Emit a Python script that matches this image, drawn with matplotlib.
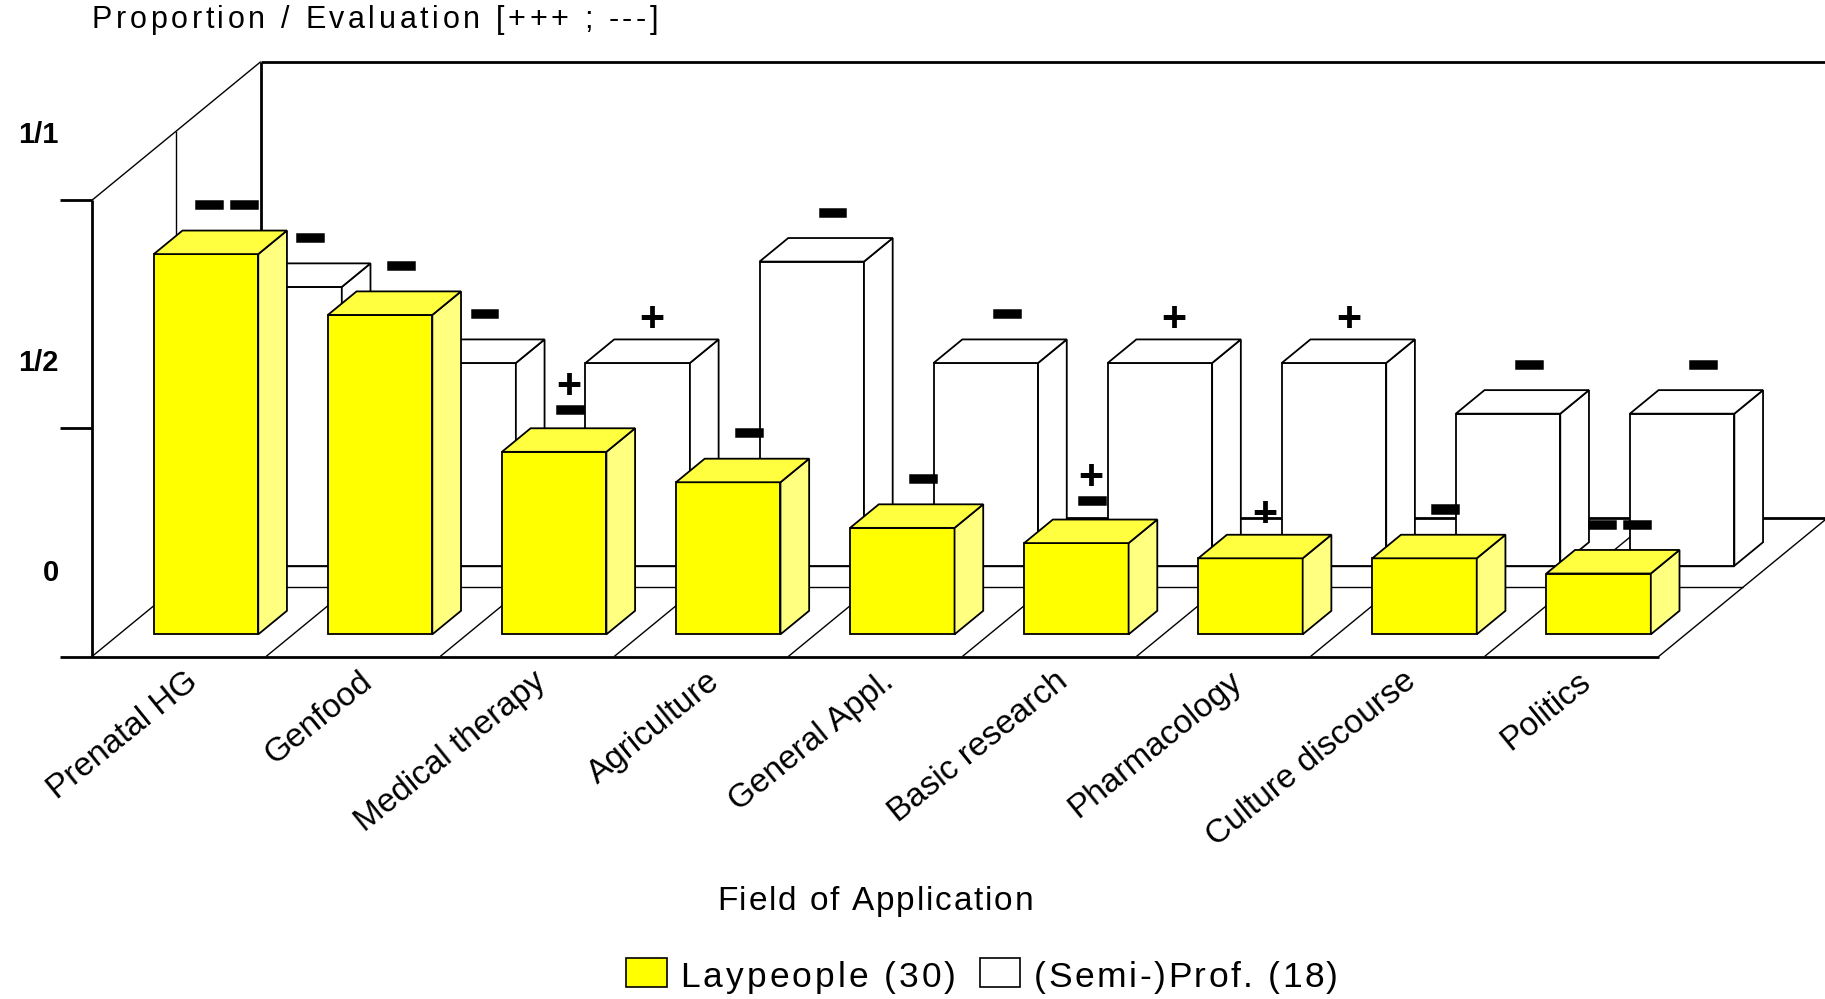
import matplotlib
matplotlib.use('Agg')
import matplotlib.pyplot as plt
import matplotlib.patheffects as pe
from matplotlib.patches import Polygon, Rectangle
from matplotlib import font_manager
from matplotlib.ft2font import FT2Font

# data
categories = ['Prenatal HG', 'Genfood', 'Medical therapy', 'Agriculture', 'General Appl.',
              'Basic research', 'Pharmacology', 'Culture discourse', 'Politics']
lay_count = [25, 21, 12, 10, 7, 6, 5, 5, 4]      # out of 30 laypeople
prof_count = [11, 8, 8, 12, 8, 8, 8, 6, 6]       # out of 18 (semi-)professionals
lay_n, prof_n = 30, 18
lay_eval = ['--', '-', '+-', '-', '-', '+-', '+', '-', '--']
prof_eval = ['-', '-', '+', '-', '-', '+', '+', '-', '-']
yticks = [0, 0.5, 1]
ytick_labels = ['0', '1/2', '1/1']

W, H = 1825, 999
fig = plt.figure(figsize=(W / 100, H / 100), dpi=100)
ax = fig.add_axes([0, 0, 1, 1])
ax.set_xlim(-0.5285, 9.9558)
ax.set_ylim(-0.7506, 1.4388)
ax.axis('off')

DX, DY = 0.9695, 0.3036   # oblique depth vector (full depth)
BD = 0.17                 # bar depth
BW = 0.6                  # bar width
n = len(categories)
THICK, THIN, EDGE = 2.0, 1.0, 1.3


def P(x, v, d):
    return (x + d * DX, v + d * DY)


def line(pts, lw, z=1):
    ax.plot([p[0] for p in pts], [p[1] for p in pts], color='black', lw=lw,
            solid_capstyle='butt', zorder=z)


# walls and floor
line([P(0, 0, 1), P(n, 0, 1)], THICK)
line([P(0, 1, 1), P(n, 1, 1)], THICK)
line([P(0, 0, 1), P(0, 1, 1)], THICK)
line([P(0, 1, 0), P(0, 1, 1)], THIN)
line([P(0, 0, 0.5), P(0, 1, 0.5)], THIN)
line([P(0, 0, 0.5), P(n, 0, 0.5)], THIN)
line([P(0.2, 0, 0.655), P(n - 1 + 0.2 + BW, 0, 0.655)], THIN)
for i in range(n + 1):
    line([P(i, 0, 0), P(i, 0, 1)], THIN)
line([P(-0.181, 0, 0), P(n, 0, 0)], THICK, 3)
line([P(0, 0, 0), P(0, 1, 0)], THICK, 3)
for t in yticks[1:]:
    line([P(-0.181, t, 0), P(0, t, 0)], THICK, 3)

label_y = [0.183, 0.643, 1.144]
for lab, yy in zip(ytick_labels, label_y):
    ax.text(-0.19, yy, lab, ha='right', va='center', fontsize=21, fontweight='bold',
            family='Liberation Sans')


def bar3d(x0, d0, h, front, side, top, z):
    faces = [
        ([P(x0, 0, d0), P(x0 + BW, 0, d0), P(x0 + BW, h, d0), P(x0, h, d0)], front),
        ([P(x0 + BW, 0, d0), P(x0 + BW, 0, d0 + BD), P(x0 + BW, h, d0 + BD), P(x0 + BW, h, d0)], side),
        ([P(x0, h, d0), P(x0 + BW, h, d0), P(x0 + BW, h, d0 + BD), P(x0, h, d0 + BD)], top),
    ]
    for pts, c in faces:
        ax.add_patch(Polygon(pts, closed=True, facecolor=c, edgecolor='black',
                             lw=EDGE, joinstyle='miter', zorder=z))


dash_fx = [pe.withStroke(linewidth=5.4, foreground='black', capstyle='projecting',
                         joinstyle='miter')]


def mark(x, y, kind):
    def dash(xx, yy):
        ax.text(xx, yy, '\u2014', ha='center', va='center', fontsize=15, fontweight='bold',
                family='Liberation Sans', path_effects=dash_fx, zorder=20)

    def plus(xx, yy):
        ax.text(xx, yy, '+', ha='center', va='center', fontsize=31, fontweight='bold',
                family='Liberation Sans', zorder=20)

    if kind == '-':
        dash(x + 0.04, y + 0.081)
    elif kind == '--':
        dash(x - 0.06, y + 0.081)
        dash(x + 0.14, y + 0.081)
    elif kind == '+':
        plus(x, y + 0.069)
    elif kind == '+-':
        dash(x + 0.01, y + 0.066)
        plus(x, y + 0.116)


rows = [(prof_count, prof_n, prof_eval, 0.655, ('white', 'white', 'white'), 5),
        (lay_count, lay_n, lay_eval, 0.16, ('#FFFF00', '#FFFF80', '#FFFF40'), 10)]
for counts, tot, evals, d0, cols, z in rows:
    for i, (c, e) in enumerate(zip(counts, evals)):
        h = c / tot
        bar3d(i + 0.2, d0, h, cols[0], cols[1], cols[2], z)
        cx, cy = P(i + 0.5, h, d0 + BD / 2)
        mark(cx, cy, e)

for i, cat in enumerate(categories):
    ax.text(i + 0.53, -0.02, cat, ha='right', va='top', rotation=39, rotation_mode='anchor',
            fontsize=24, family='Liberation Sans')

# letter-spaced texts
_font = FT2Font(font_manager.findfont(font_manager.FontProperties(family='Liberation Sans')))


def spaced(x, y, s, size, width, ha='left'):
    _font.set_size(size, 100)
    adv = [_font.load_char(ord(ch)).linearHoriAdvance / 65536 for ch in s]
    gap = (width - sum(adv)) / (len(s) - 1)
    if ha == 'center':
        x -= width / 2
    for ch, a in zip(s, adv):
        fig.text(x / W, 1 - y / H, ch, fontsize=size, family='Liberation Sans',
                 ha='left', va='baseline')
        x += a + gap


spaced(92, 28, 'Proportion / Evaluation [+++ ; ---]', 22, 566)
spaced(875, 910, 'Field of Application', 24, 316, ha='center')
spaced(680, 987, 'Laypeople (30)', 25.5, 276)
spaced(1034, 987, '(Semi-)Prof. (18)', 25.5, 304)

fig.add_artist(Rectangle((626 / W, 1 - 987 / H), 41 / W, 29 / H, transform=fig.transFigure,
                         facecolor='#FFFF00', edgecolor='black', lw=1.2))
fig.add_artist(Rectangle((980 / W, 1 - 987 / H), 40 / W, 29 / H, transform=fig.transFigure,
                         facecolor='white', edgecolor='black', lw=1.2))

fig.savefig('out.png', dpi=100)
